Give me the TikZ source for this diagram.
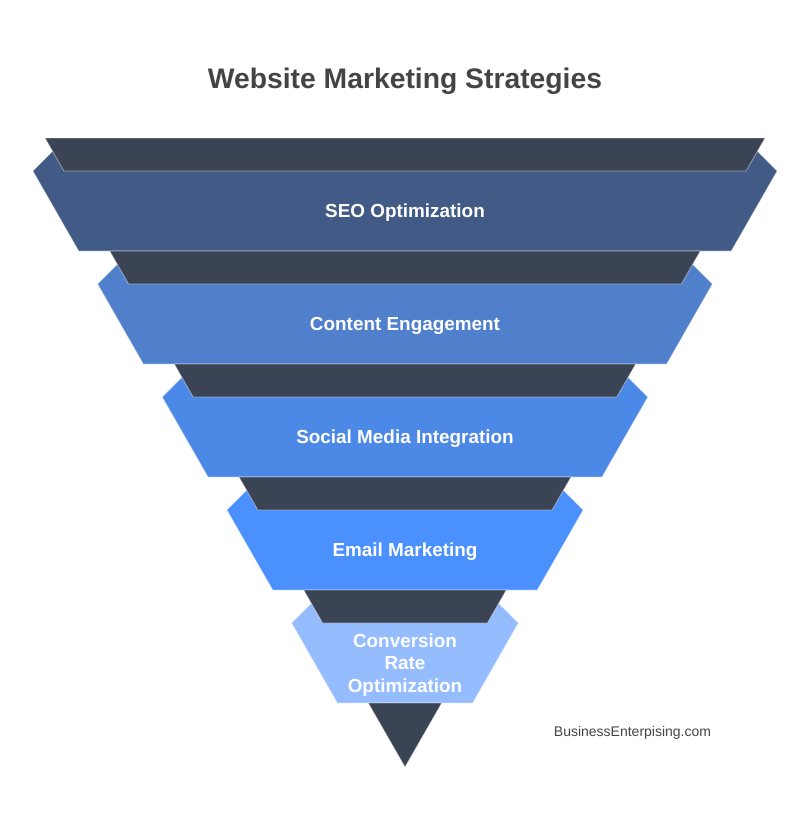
\documentclass[tikz,border=0pt]{standalone}
\usepackage{fontspec}
\setmainfont{Liberation Sans}
\usepackage{xcolor}

\definecolor{funneldark}{HTML}{3B4455}
\definecolor{bandone}{HTML}{415B86}
\definecolor{bandtwo}{HTML}{5080CC}
\definecolor{bandthree}{HTML}{4C88E6}
\definecolor{bandfour}{HTML}{4A90FF}
\definecolor{bandfive}{HTML}{94BCFF}
\definecolor{titlegray}{HTML}{444444}

\begin{document}
\begin{tikzpicture}[x=1pt, y=-1pt,
  band/.style={draw=white, draw opacity=0.45, line width=0.8pt, line join=miter},
  darkband/.style={band, fill=funneldark},
  bandlabel/.style={text=white, font=\bfseries\fontsize{18.9}{22.7}\selectfont, align=center}]
  \useasboundingbox (0,0) rectangle (800,828);

  % title
  \node[text=titlegray, font=\bfseries\fontsize{28.3}{33}\selectfont] (title) at (405,81) {Website Marketing Strategies};

  % level 1
  \fill[band, fill=bandone] (52.6,151.3) -- (32.9,171) -- (78.7,251) -- (731.3,251) -- (777.1,171) -- (757.4,151.3) -- cycle;
  \fill[darkband] (45,138) -- (765,138) -- (746.1,171) -- (63.9,171) -- cycle;
  % level 2
  \fill[band, fill=bandtwo] (117.3,264.3) -- (97.6,284) -- (143.3,364) -- (666.7,364) -- (712.4,284) -- (692.7,264.3) -- cycle;
  \fill[darkband] (109.7,251) -- (700.3,251) -- (681.4,284) -- (128.6,284) -- cycle;
  % level 3
  \fill[band, fill=bandthree] (181.9,377.3) -- (162.2,397) -- (208,477) -- (602,477) -- (647.8,397) -- (628.1,377.3) -- cycle;
  \fill[darkband] (174.3,364) -- (635.7,364) -- (616.8,397) -- (193.2,397) -- cycle;
  % level 4
  \fill[band, fill=bandfour] (246.6,490.3) -- (226.9,510) -- (272.7,590) -- (537.3,590) -- (583.1,510) -- (563.4,490.3) -- cycle;
  \fill[darkband] (239,477) -- (571,477) -- (552.1,510) -- (257.9,510) -- cycle;
  % level 5
  \fill[band, fill=bandfive] (311.3,603.3) -- (291.6,623) -- (337.3,703) -- (472.7,703) -- (518.4,623) -- (498.7,603.3) -- cycle;
  \fill[darkband] (303.7,590) -- (506.3,590) -- (487.4,623) -- (322.6,623) -- cycle;
  % tip
  \fill[darkband] (368.3,703) -- (441.7,703) -- (405,767) -- cycle;

  % labels
  \node[bandlabel] (seo) at (405,213) {SEO Optimization};
  \node[bandlabel] (content) at (405,326) {Content Engagement};
  \node[bandlabel] (social) at (405,439) {Social Media Integration};
  \node[bandlabel] (email) at (405,552) {Email Marketing};
  \node[bandlabel] (conversion) at (405,665) {Conversion\\Rate\\Optimization};

  \node[text=titlegray, font=\fontsize{14}{17}\selectfont] (footer) at (632.5,733) {BusinessEnterpising.com};
\end{tikzpicture}
\end{document}
